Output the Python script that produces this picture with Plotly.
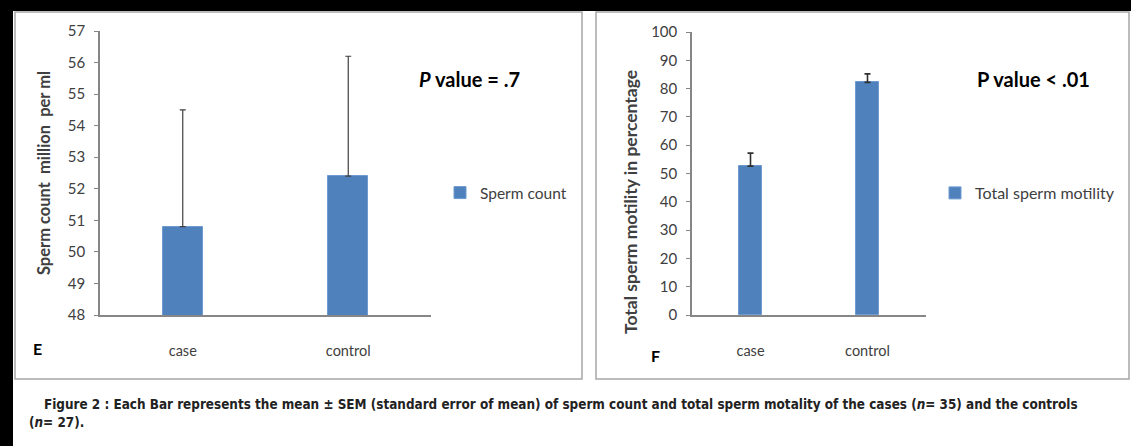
import plotly.graph_objects as go

# ---------------- data ----------------
categories = ["case", "control"]
count_mean = [50.8, 52.4]
count_sem = [3.7, 3.8]
motility_mean = [52.6, 82.2]
motility_sem = [4.6, 3.0]
count_ticks = list(range(48, 58))
motility_ticks = list(range(0, 101, 10))

W, H = 1131, 446
def px(x): return x / W
def py(y): return 1 - y / H

BAR = "#4F81BD"
AX = "#868686"
TXT = "#404040"
FONT = "Lato, Liberation Sans, sans-serif"
CAP_FONT = "Liberation Sans Narrow, DejaVu Sans Condensed, Arial Narrow, sans-serif"

fig = go.Figure()

fig.add_trace(go.Bar(
    x=categories, y=count_mean, name="Sperm count", marker_color=BAR,
    marker_line=dict(color="#6F9BD0", width=1), width=0.24,
    error_y=dict(type="data", symmetric=False, array=count_sem,
                 arrayminus=[0, 0], color="#404040", thickness=1.2, width=3),
    xaxis="x", yaxis="y", legend="legend",
))
fig.add_trace(go.Bar(
    x=categories, y=motility_mean, name="Total sperm motility", marker_color=BAR,
    marker_line=dict(color="#6F9BD0", width=1), width=0.2,
    error_y=dict(type="data", symmetric=False, array=motility_sem,
                 arrayminus=[0, 0], color="#303030", thickness=1.6, width=3),
    xaxis="x2", yaxis="y2", legend="legend2",
))

axis_common = dict(showgrid=False, zeroline=False, showline=True,
                   linecolor=AX, linewidth=1.5, automargin=False)

fig.update_layout(
    width=W, height=H, margin=dict(l=0, r=0, t=0, b=0, autoexpand=False),
    paper_bgcolor="white", plot_bgcolor="white",
    font=dict(family=FONT, color=TXT, size=13),
    bargap=0,
    xaxis=dict(domain=[px(100), px(431)], anchor="y", type="category",
               ticks="", ticklabelstandoff=22,
               tickfont=dict(size=14.5, color=TXT), **axis_common),
    yaxis=dict(domain=[py(315), py(31)], anchor="x", range=[48, 57],
               tickvals=count_ticks, ticks="outside", ticklen=4, tickcolor=AX,
               ticklabelstandoff=6, tickfont=dict(size=15, color=TXT),
               title=dict(text="<b>Sperm count&nbsp;&nbsp;million&nbsp;&nbsp;per ml</b>",
                          font=dict(size=16.5, color=TXT), standoff=13),
               **axis_common),
    xaxis2=dict(domain=[px(692), px(926)], anchor="y2", type="category",
                ticks="", ticklabelstandoff=22,
                tickfont=dict(size=14.5, color=TXT), **axis_common),
    yaxis2=dict(domain=[py(315), py(32)], anchor="x2", range=[0, 100],
                tickvals=motility_ticks, ticks="outside", ticklen=4, tickcolor=AX,
                ticklabelstandoff=6, tickfont=dict(size=15, color=TXT),
                **axis_common),
    legend=dict(x=px(440), y=py(193), xanchor="left", yanchor="middle",
                font=dict(size=15.5, color=TXT), bgcolor="rgba(0,0,0,0)",
                itemwidth=30),
    legend2=dict(x=px(935), y=py(193), xanchor="left", yanchor="middle",
                 font=dict(size=16, color=TXT), bgcolor="rgba(0,0,0,0)",
                 itemwidth=30),
    showlegend=True,
)

# frame / panel borders
shapes = [
    dict(type="rect", xref="paper", yref="paper", x0=px(15), x1=px(582),
         y0=py(379), y1=py(12), line=dict(color="#a6a6a6", width=1.5)),
    dict(type="rect", xref="paper", yref="paper", x0=px(596), x1=px(1129),
         y0=py(379), y1=py(12), line=dict(color="#a6a6a6", width=1.5)),
    dict(type="rect", xref="paper", yref="paper", x0=0, x1=1,
         y0=py(11), y1=1, fillcolor="black", line=dict(width=0), layer="above"),
    dict(type="rect", xref="paper", yref="paper", x0=0, x1=px(13),
         y0=0, y1=1, fillcolor="black", line=dict(width=0), layer="above"),
]
fig.update_layout(shapes=shapes)

ann = [
    dict(text="<b>Total sperm motility in percentage</b>", x=px(630), y=py(202),
         xanchor="center", yanchor="middle", textangle=-90,
         font=dict(size=17.5, color=TXT, family=FONT)),
    dict(text="<b><i>P</i> value = .7</b>", x=px(417), y=py(79), xanchor="left",
         yanchor="middle", font=dict(size=20, color="black", family=FONT)),
    dict(text="<b>P value < .01</b>", x=px(975), y=py(79), xanchor="left",
         yanchor="middle", font=dict(size=20, color="black", family=FONT)),
    dict(text="<b>E</b>", x=px(31), y=py(348), xanchor="left", yanchor="middle",
         font=dict(size=16, color="black", family=FONT)),
    dict(text="<b>F</b>", x=px(649), y=py(355), xanchor="left", yanchor="middle",
         font=dict(size=16, color="black", family=FONT)),
    dict(text="<b>Figure 2 : Each Bar represents the mean ± SEM (standard error of mean) of sperm count and total sperm motality of the cases (<i>n</i>= 35) and the controls</b>",
         x=px(42), y=py(404), xanchor="left", yanchor="middle",
         font=dict(size=13.4, color="#222222", family=CAP_FONT)),
    dict(text="<b>(<i>n</i>= 27).</b>", x=px(27), y=py(422), xanchor="left",
         yanchor="middle", font=dict(size=13.4, color="#222222", family=CAP_FONT)),
]
for a in ann:
    a.update(xref="paper", yref="paper", showarrow=False)
fig.update_layout(annotations=ann)

fig.write_html("out.html")
